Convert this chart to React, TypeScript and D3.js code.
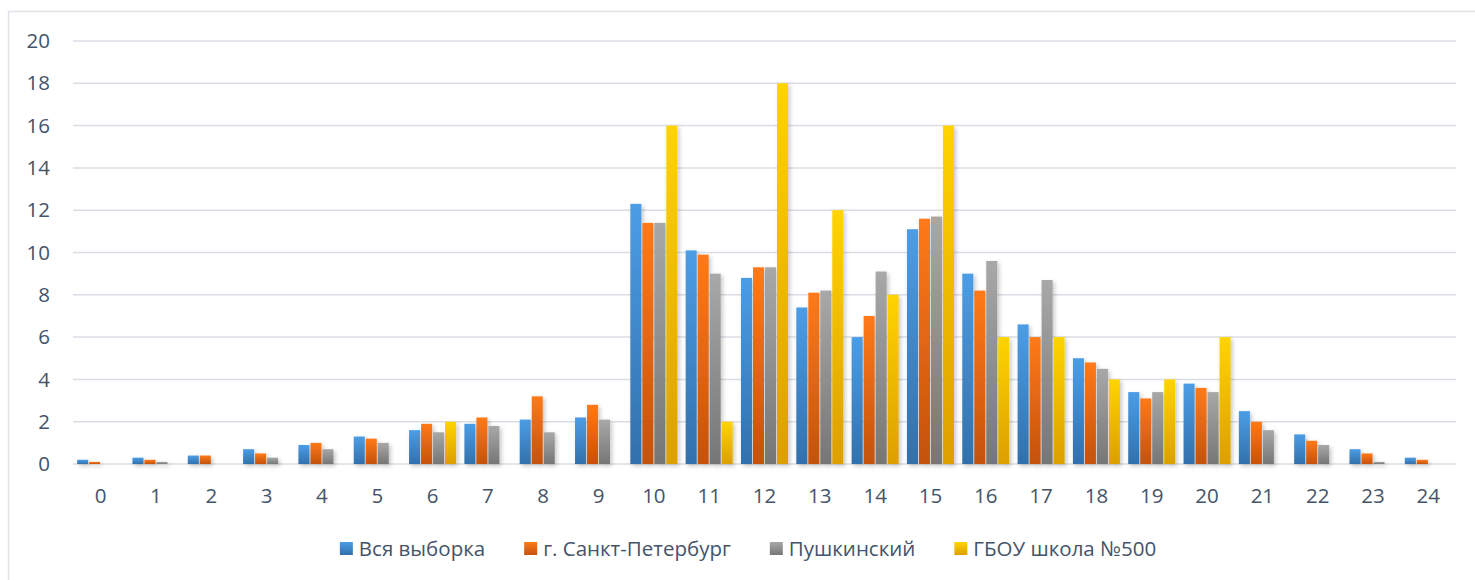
import React, { useEffect, useRef } from 'react';
import * as d3 from 'd3';

const categories = ['0','1','2','3','4','5','6','7','8','9','10','11','12','13','14','15','16','17','18','19','20','21','22','23','24'];
const seriesNames = ['Вся выборка', 'г. Санкт-Петербург', 'Пушкинский', 'ГБОУ школа №500'];
const allSample = [0.2,0.3,0.4,0.7,0.9,1.3,1.6,1.9,2.1,2.2,12.3,10.1,8.8,7.4,6.0,11.1,9.0,6.6,5.0,3.4,3.8,2.5,1.4,0.7,0.3];
const spb = [0.1,0.2,0.4,0.5,1.0,1.2,1.9,2.2,3.2,2.8,11.4,9.9,9.3,8.1,7.0,11.6,8.2,6.0,4.8,3.1,3.6,2.0,1.1,0.5,0.2];
const pushkin = [0,0.1,0,0.3,0.7,1.0,1.5,1.8,1.5,2.1,11.4,9.0,9.3,8.2,9.1,11.7,9.6,8.7,4.5,3.4,3.4,1.6,0.9,0.1,0];
const school500 = [0,0,0,0,0,0,2,0,0,0,16,2,18,12,8,16,6,6,4,4,6,0,0,0,0];
const yTicks = [0,2,4,6,8,10,12,14,16,18,20];

// верх / низ градиента для каждой серии
const colors = [
  ['#4c9de6', '#3270ab'],
  ['#ff7a1a', '#c4520c'],
  ['#a8a8a8', '#767676'],
  ['#ffd400', '#dc9f00'],
];

const App = () => {
  const ref = useRef<SVGSVGElement>(null);

  useEffect(() => {
    const values = [allSample, spb, pushkin, school500];
    const svg = d3.select(ref.current);
    svg.selectAll('*').remove();

    const left = 73, right = 1456, top = 41, bottom = 464;
    const font = "'Open Sans', sans-serif";
    const textColor = '#44546a';

    const defs = svg.append('defs');
    colors.forEach((c, i) => {
      const g = defs.append('linearGradient')
        .attr('id', 'grad' + i)
        .attr('x1', 0).attr('y1', 0).attr('x2', 0).attr('y2', 1);
      g.append('stop').attr('offset', '0%').attr('stop-color', c[0]);
      g.append('stop').attr('offset', '100%').attr('stop-color', c[1]);
    });
    const f = defs.append('filter').attr('id', 'shadow')
      .attr('x', '-50%').attr('y', '-10%').attr('width', '200%').attr('height', '130%');
    f.append('feDropShadow').attr('dx', 2).attr('dy', 2).attr('stdDeviation', 2)
      .attr('flood-color', '#000').attr('flood-opacity', 0.22);

    // рамка
    svg.append('rect')
      .attr('x', 8.5).attr('y', 11.5).attr('width', 1500).attr('height', 600)
      .attr('fill', 'white').attr('stroke', '#dfe3e8').attr('stroke-width', 1.5);

    const x = d3.scaleBand<string>()
      .domain(categories)
      .range([left, right])
      .paddingInner(0.15)
      .paddingOuter(0.075);

    const xs = d3.scaleBand<number>()
      .domain([0, 1, 2, 3])
      .range([0, x.bandwidth()])
      .paddingInner(0.08);

    const y = d3.scaleLinear().domain([0, 20]).range([bottom, top]);

    // сетка
    svg.append('g').selectAll('line')
      .data(yTicks)
      .enter().append('line')
      .attr('x1', left).attr('x2', right)
      .attr('y1', d => y(d)).attr('y2', d => y(d))
      .attr('stroke', '#dadee4').attr('stroke-width', 1.5);

    // подписи Y
    svg.append('g').selectAll('text')
      .data(yTicks)
      .enter().append('text')
      .attr('x', 50)
      .attr('y', d => y(d))
      .attr('dy', '0.35em')
      .attr('text-anchor', 'end')
      .style('font-family', font).style('font-size', '20.5px')
      .attr('fill', textColor)
      .text(d => d);

    // столбцы
    const bars = svg.append('g').attr('filter', 'url(#shadow)');
    values.forEach((vals, s) => {
      bars.selectAll('.bar' + s)
        .data(vals)
        .enter().append('rect')
        .attr('class', 'bar' + s)
        .attr('x', (d, i) => (x(categories[i]) as number) + (xs(s) as number))
        .attr('width', xs.bandwidth())
        .attr('y', d => y(d))
        .attr('height', d => bottom - y(d))
        .attr('fill', `url(#grad${s})`);
    });

    // подписи X
    svg.append('g').selectAll('text')
      .data(categories)
      .enter().append('text')
      .attr('x', d => (x(d) as number) + x.bandwidth() / 2)
      .attr('y', 496)
      .attr('dy', '0.35em')
      .attr('text-anchor', 'middle')
      .style('font-family', font).style('font-size', '20.5px')
      .attr('fill', textColor)
      .text(d => d);

    // легенда
    const leg = svg.append('g');
    const items = seriesNames.map((name, i) => {
      const g = leg.append('g');
      g.append('rect').attr('x', 0).attr('y', -7).attr('width', 13).attr('height', 13)
        .attr('fill', `url(#grad${i})`);
      const t = g.append('text')
        .attr('x', 19).attr('y', 0).attr('dy', '0.35em')
        .style('font-family', font).style('font-size', '20.5px')
        .attr('fill', textColor)
        .text(name);
      const w = (t.node() as SVGTextElement).getComputedTextLength();
      return { g, w: 19 + w };
    });
    const gap = 39;
    const total = d3.sum(items, d => d.w) + gap * (items.length - 1);
    let cx = 748 - total / 2;
    items.forEach(it => {
      it.g.attr('transform', `translate(${cx},549)`);
      cx += it.w + gap;
    });
  }, []);

  return (
    <div style={{ position: 'absolute', left: 0, top: 0 }}>
      <svg ref={ref} width={1475} height={580} style={{ display: 'block' }} />
    </div>
  );
};

export default App;
